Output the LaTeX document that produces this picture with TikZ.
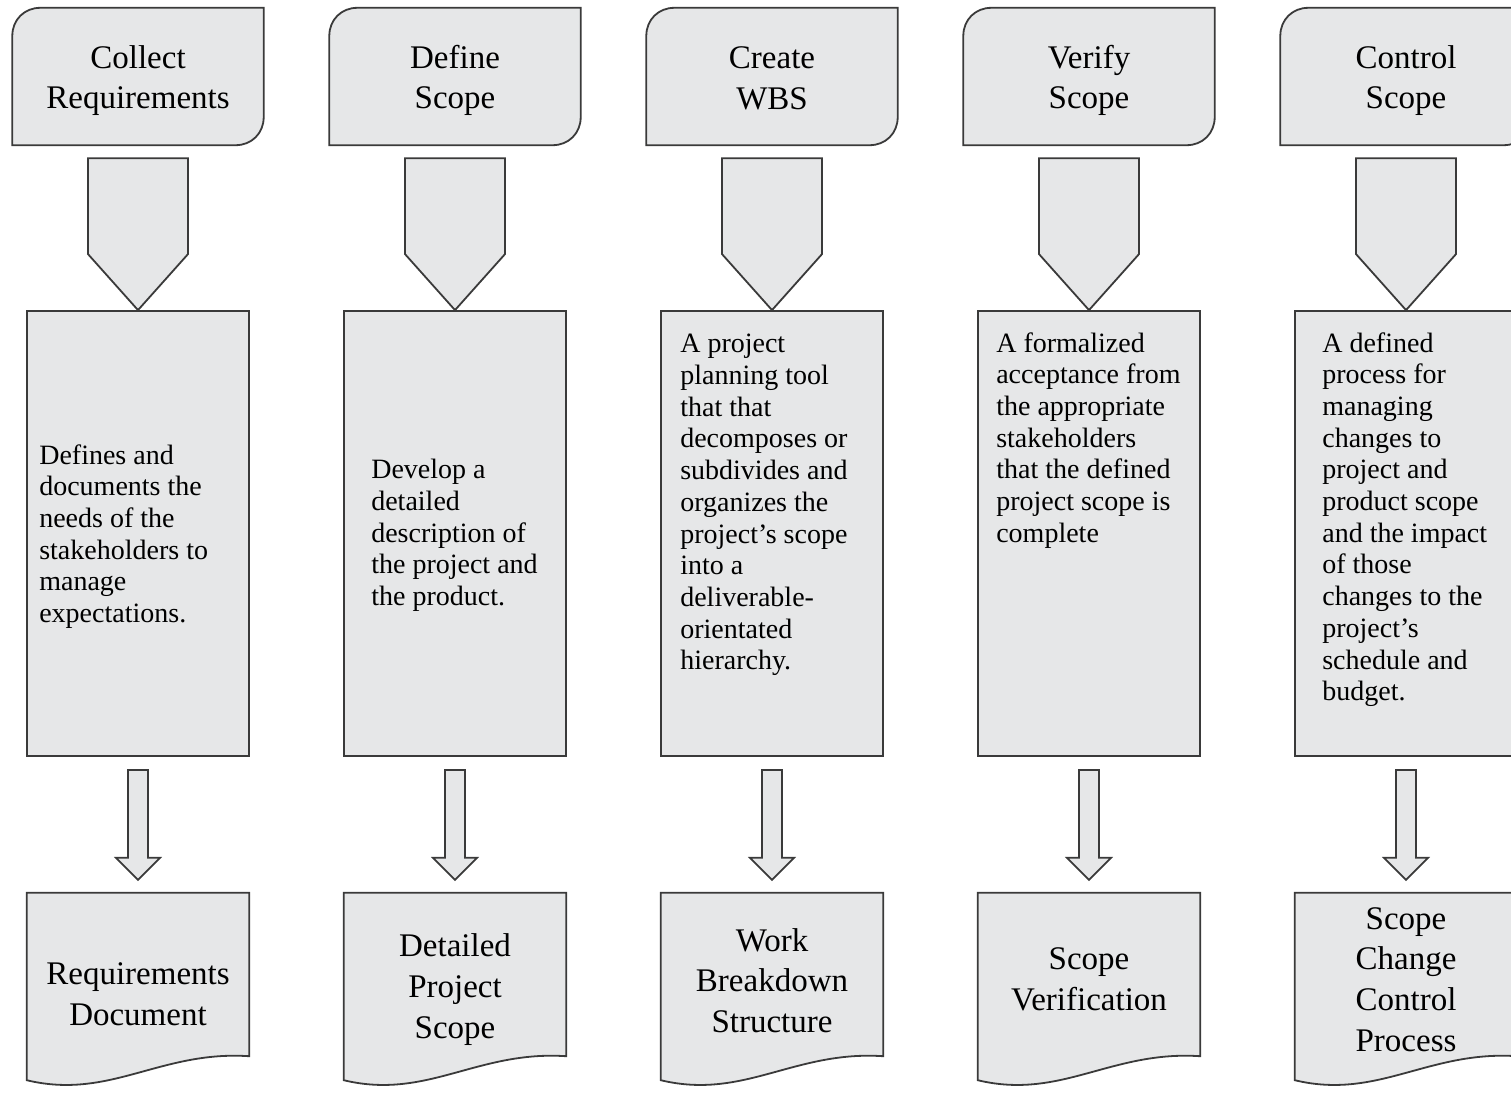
\documentclass[tikz,border=0pt]{standalone}
\usepackage{fontspec}
\setmainfont{Liberation Serif}
\usetikzlibrary{positioning,calc,backgrounds}

\definecolor{boxgray}{HTML}{E6E7E8}
\definecolor{linegray}{HTML}{3A3A3A}

\tikzset{
  shapeline/.style={draw=linegray, line width=1.8pt, fill=boxgray, line join=miter},
  tabshape/.style={minimum width=251pt, minimum height=137pt, inner sep=0pt},
  midbox/.style={shapeline, minimum width=222pt, minimum height=445pt, inner sep=0pt},
  docshape/.style={minimum width=222pt, minimum height=187pt, inner sep=0pt},
  headtext/.style={align=center, inner sep=0pt, font=\fontsize{33}{40.7}\selectfont},
  bodytext/.style={align=left, inner sep=0pt, font=\fontsize{28}{31.7}\selectfont},
}

\begin{document}
\begin{tikzpicture}[x=1pt, y=-1pt]
\useasboundingbox (0,0) rectangle (1511,1092);

% frames of the five columns
\foreach \i in {1,...,5}{
    \pgfmathsetmacro\cx{138+317*(\i-1)}
    \node[tabshape] (t\i) at (\cx,76.5) {};
    \node[midbox] (m\i) at (\cx,533.5) {};
    \node[docshape] (d\i) at (\cx,986.5) {};
}

% process names
\node[headtext] (h1) at ($(t1)+(0,4)$) {Collect\\Requirements};
\node[headtext] (h2) at ($(t2)+(0,4)$) {Define\\Scope};
\node[headtext] (h3) at ($(t3)+(0,2)$) {Create\\WBS};
\node[headtext] (h4) at ($(t4)+(0,4)$) {Verify\\Scope};
\node[headtext] (h5) at ($(t5)+(0,4)$) {Control\\Scope};

% descriptions
\node[bodytext, anchor=west] (b1) at ($(m1.west)+(13,3)$)
    {Defines and\\documents the\\needs of the\\stakeholders to\\manage\\expectations.};
\node[bodytext, anchor=west] (b2) at ($(m2.west)+(28,2)$)
    {Develop a\\detailed\\description of\\the project and\\the product.};
\node[bodytext, anchor=north west] (b3) at ($(m3.north west)+(20,24)$)
    {A project\\planning tool\\that that\\decomposes or\\subdivides and\\organizes the\\project's scope\\into a\\deliverable-\\orientated\\hierarchy.};
\node[bodytext, anchor=north west] (b4) at ($(m4.north west)+(19,22)$)
    {A formalized\\acceptance from\\the appropriate\\stakeholders\\that the defined\\project scope is\\complete};
\node[bodytext, anchor=north west] (b5) at ($(m5.north west)+(28,22)$)
    {A defined\\process for\\managing\\changes to\\project and\\product scope\\and the impact\\of those\\changes to the\\project's\\schedule and\\budget.};

% outputs
\node[headtext] (o1) at ($(d1.center)+(0,8)$) {Requirements\\Document};
\node[headtext] (o2) at ($(d2.center)+(0,3)$) {Detailed\\Project\\Scope};
\node[headtext] (o3) at ($(d3.center)+(0,-6)$) {Work\\Breakdown\\Structure};
\node[headtext] (o4) at ($(d4.center)+(0,-7)$) {Scope\\Verification};
\node[headtext] (o5) at ($(d5.center)+(0,-7)$) {Scope\\Change\\Control\\Process};

\begin{scope}[on background layer]
\foreach \i in {1,...,5}{
    % tab with two rounded corners
    \draw[shapeline] (t\i.south west) -- ($(t\i.north west)+(0,28)$)
        .. controls ($(t\i.north west)+(0,12)$) and ($(t\i.north west)+(12,0)$) .. ($(t\i.north west)+(28,0)$)
        -- (t\i.north east) -- ($(t\i.south east)+(0,-28)$)
        .. controls ($(t\i.south east)+(0,-12)$) and ($(t\i.south east)+(-12,0)$) .. ($(t\i.south east)+(-28,0)$)
        -- cycle;
    % document with wavy bottom
    \draw[shapeline] (d\i.north west) -- (d\i.north east) -- ($(d\i.south east)+(0,-24)$)
        .. controls ($(d\i.south east)+(-89,-30)$) and ($(d\i.south west)+(83,20)$) .. (d\i.south west)
        -- cycle;
    % wide arrow
    \draw[shapeline] ($(t\i.south)+(-50,13)$) -- ($(t\i.south)+(50,13)$) -- ($(m\i.north)+(50,-56)$)
        -- (m\i.north) -- ($(m\i.north)+(-50,-56)$) -- cycle;
    % thin arrow
    \draw[shapeline] ($(m\i.south)+(-10,13)$) -- ($(m\i.south)+(10,13)$) -- ($(d\i.north)+(10,-35)$)
        -- ($(d\i.north)+(22,-35)$) -- ($(d\i.north)+(0,-13)$) -- ($(d\i.north)+(-22,-35)$)
        -- ($(d\i.north)+(-10,-35)$) -- cycle;
}
\end{scope}

\end{tikzpicture}
\end{document}
